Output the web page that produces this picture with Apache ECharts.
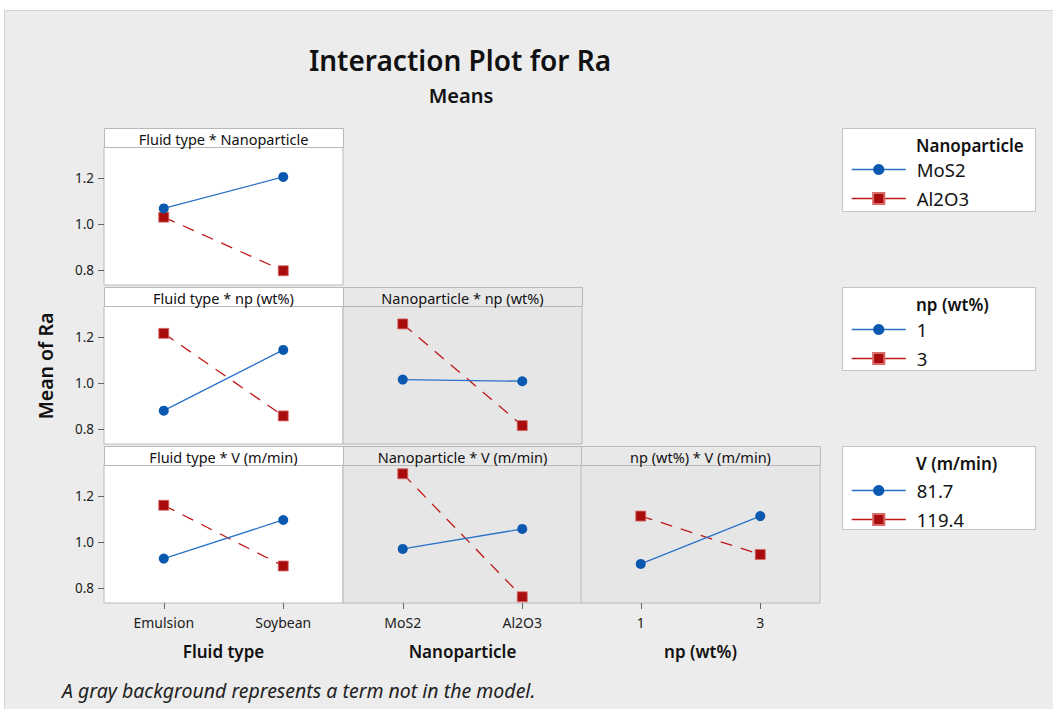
<!DOCTYPE html>
<html><head><meta charset="utf-8">
<script src="https://cdn.jsdelivr.net/npm/echarts@6/dist/echarts.min.js"></script>
<style>html,body{margin:0;padding:0;background:#fff}#c{width:1053px;height:709px}</style>
</head><body><div id="c"></div>
<script>
// ---- data ----
const fluidTypes = ['Emulsion', 'Soybean'];
const nanoparticles = ['MoS2', 'Al2O3'];
const npLevels = ['1', '3'];
const vLevels = ['81.7', '119.4'];
const yTicks = [0.8, 1.0, 1.2];

const fluidNano_MoS2 = [1.068, 1.205];
const fluidNano_Al2O3 = [1.030, 0.797];
const fluidNp_1 = [0.880, 1.144];
const fluidNp_3 = [1.216, 0.857];
const nanoNp_1 = [1.015, 1.008];
const nanoNp_3 = [1.257, 0.815];
const fluidV_81 = [0.928, 1.096];
const fluidV_119 = [1.160, 0.896];
const nanoV_81 = [0.970, 1.057];
const nanoV_119 = [1.297, 0.762];
const npV_81 = [0.905, 1.113];
const npV_119 = [1.113, 0.946];

// ---- layout ----
const FONT = 'Noto Sans';
const colLeft = [104, 343, 581];
const colW = 239;
const stripTop = [128, 287, 446];
const stripH = 19;
const plotTop = [147, 306, 465];
const plotH = 138;
const yMin = 0.735, yMax = 1.335;
const BLUE = '#0b58b0', BLUE_LINE = '#2a72c8', RED = '#a80c0c', RED_LINE = '#c01818';
const xCats = [fluidTypes, nanoparticles, npLevels];
const xNames = ['Fluid type', 'Nanoparticle', 'np (wt%)'];

const panels = [
  {r:0, c:0, title:'Fluid type * Nanoparticle', inModel:true, s:[['MoS2', fluidNano_MoS2], ['Al2O3', fluidNano_Al2O3]]},
  {r:1, c:0, title:'Fluid type * np (wt%)', inModel:true, s:[['1', fluidNp_1], ['3', fluidNp_3]]},
  {r:1, c:1, title:'Nanoparticle * np (wt%)', inModel:false, s:[['1', nanoNp_1], ['3', nanoNp_3]]},
  {r:2, c:0, title:'Fluid type * V (m/min)', inModel:true, s:[['81.7', fluidV_81], ['119.4', fluidV_119]]},
  {r:2, c:1, title:'Nanoparticle * V (m/min)', inModel:false, s:[['81.7', nanoV_81], ['119.4', nanoV_119]]},
  {r:2, c:2, title:'np (wt%) * V (m/min)', inModel:false, s:[['81.7', npV_81], ['119.4', npV_119]]}
];

const grid = [], xAxis = [], yAxis = [], series = [];
const graphic = [
  {type:'rect', shape:{x:4.5, y:10.5, width:1060, height:710}, style:{fill:'#ececec', stroke:'#d4d4d4', lineWidth:1}, z:-10},
  {type:'text', x:460, y:60, style:{text:'Interaction Plot for Ra', font:'600 28px "' + FONT + '"', fill:'#111', textAlign:'center', textVerticalAlign:'middle'}},
  {type:'text', x:461, y:95, style:{text:'Means', font:'600 20px "' + FONT + '"', fill:'#111', textAlign:'center', textVerticalAlign:'middle'}},
  {type:'text', x:45, y:366, rotation:Math.PI/2, style:{text:'Mean of Ra', font:'600 19.5px "' + FONT + '"', fill:'#111', textAlign:'center', textVerticalAlign:'middle'}},
  {type:'text', x:62, y:690, style:{text:'A gray background represents a term not in the model.', font:'italic 19.5px "' + FONT + '"', fill:'#222', textAlign:'left', textVerticalAlign:'middle'}}
];

panels.forEach((p, i) => {
  const left = colLeft[p.c];
  grid.push({left:left, top:plotTop[p.r], width:colW, height:plotH, show:true,
    backgroundColor: p.inModel ? '#ffffff' : '#e6e6e6', borderColor:'#b9b9b9', borderWidth:1});
  graphic.push({type:'rect', shape:{x:left+0.5, y:stripTop[p.r]+0.5, width:colW, height:stripH},
    style:{fill: p.inModel ? '#ffffff' : '#e8e8e8', stroke:'#b9b9b9', lineWidth:1}, z:5});
  graphic.push({type:'text', x:left + colW/2, y:stripTop[p.r] + stripH/2 + 1, z:6,
    style:{text:p.title, font:'14.5px "' + FONT + '"', fill:'#111', textAlign:'center', textVerticalAlign:'middle'}});
  const bottom = p.r === 2;
  xAxis.push({type:'category', gridIndex:i, data:xCats[p.c], boundaryGap:true,
    axisLine:{show:false},
    axisTick:{show:bottom, alignWithLabel:true, length:6, lineStyle:{color:'#666'}},
    axisLabel:{show:bottom, margin:12, fontFamily:FONT, fontSize:14, color:'#222'},
    name: bottom ? xNames[p.c] : '', nameLocation:'middle', nameGap:40,
    nameTextStyle:{fontFamily:FONT, fontSize:17, fontWeight:600, color:'#111'},
    splitLine:{show:false}});
  const first = p.c === 0;
  yAxis.push({type:'value', gridIndex:i, min:yMin, max:yMax,
    axisLine:{show:false}, splitLine:{show:false},
    axisTick:{show:first, length:6, customValues:yTicks, lineStyle:{color:'#666'}},
    axisLabel:{show:first, customValues:yTicks, margin:10, fontFamily:FONT, fontSize:13.5, color:'#222', formatter:v => Number(v).toFixed(1)}});
  series.push({type:'line', name:p.s[0][0], xAxisIndex:i, yAxisIndex:i, data:p.s[0][1],
    symbol:'circle', symbolSize:10, itemStyle:{color:BLUE}, lineStyle:{color:BLUE_LINE, width:1.3, type:'solid'}, z:3});
  series.push({type:'line', name:p.s[1][0], xAxisIndex:i, yAxisIndex:i, data:p.s[1][1],
    symbol:'rect', symbolSize:10, itemStyle:{color:RED, borderColor:'#d86a6a', borderWidth:0.8}, lineStyle:{color:RED_LINE, width:1.3, type:[12,9]}, z:2});
});

// legends
const legendGroups = [
  {title:'Nanoparticle', names:nanoparticles, boxTop:128, top:160},
  {title:'np (wt%)', names:npLevels, boxTop:287, top:320},
  {title:'V (m/min)', names:vLevels, boxTop:446, top:481}
];
const legend = [];
legendGroups.forEach(g => {
  graphic.push({type:'rect', shape:{x:842.5, y:g.boxTop+0.5, width:193, height:83}, style:{fill:'#ffffff', stroke:'#c4c4c4', lineWidth:1}, z:-5});
  graphic.push({type:'text', x:916, y:g.boxTop+17, style:{text:g.title, font:'600 17px "' + FONT + '"', fill:'#111', textAlign:'left', textVerticalAlign:'middle'}});
  legend.push({orient:'vertical', left:851, top:g.top, padding:0, itemWidth:54, itemHeight:14, itemGap:10,
    data:g.names, selectedMode:false,
    lineStyle:{type:'solid', width:1.5},
    textStyle:{fontFamily:FONT, fontSize:18.5, color:'#111', padding:[0,0,0,6], lineHeight:14}});
});

const chart = echarts.init(document.getElementById('c'), null, {renderer:'svg'});
chart.setOption({animation:false, backgroundColor:'#ffffff', grid, xAxis, yAxis, series, legend, graphic});
</script></body></html>
